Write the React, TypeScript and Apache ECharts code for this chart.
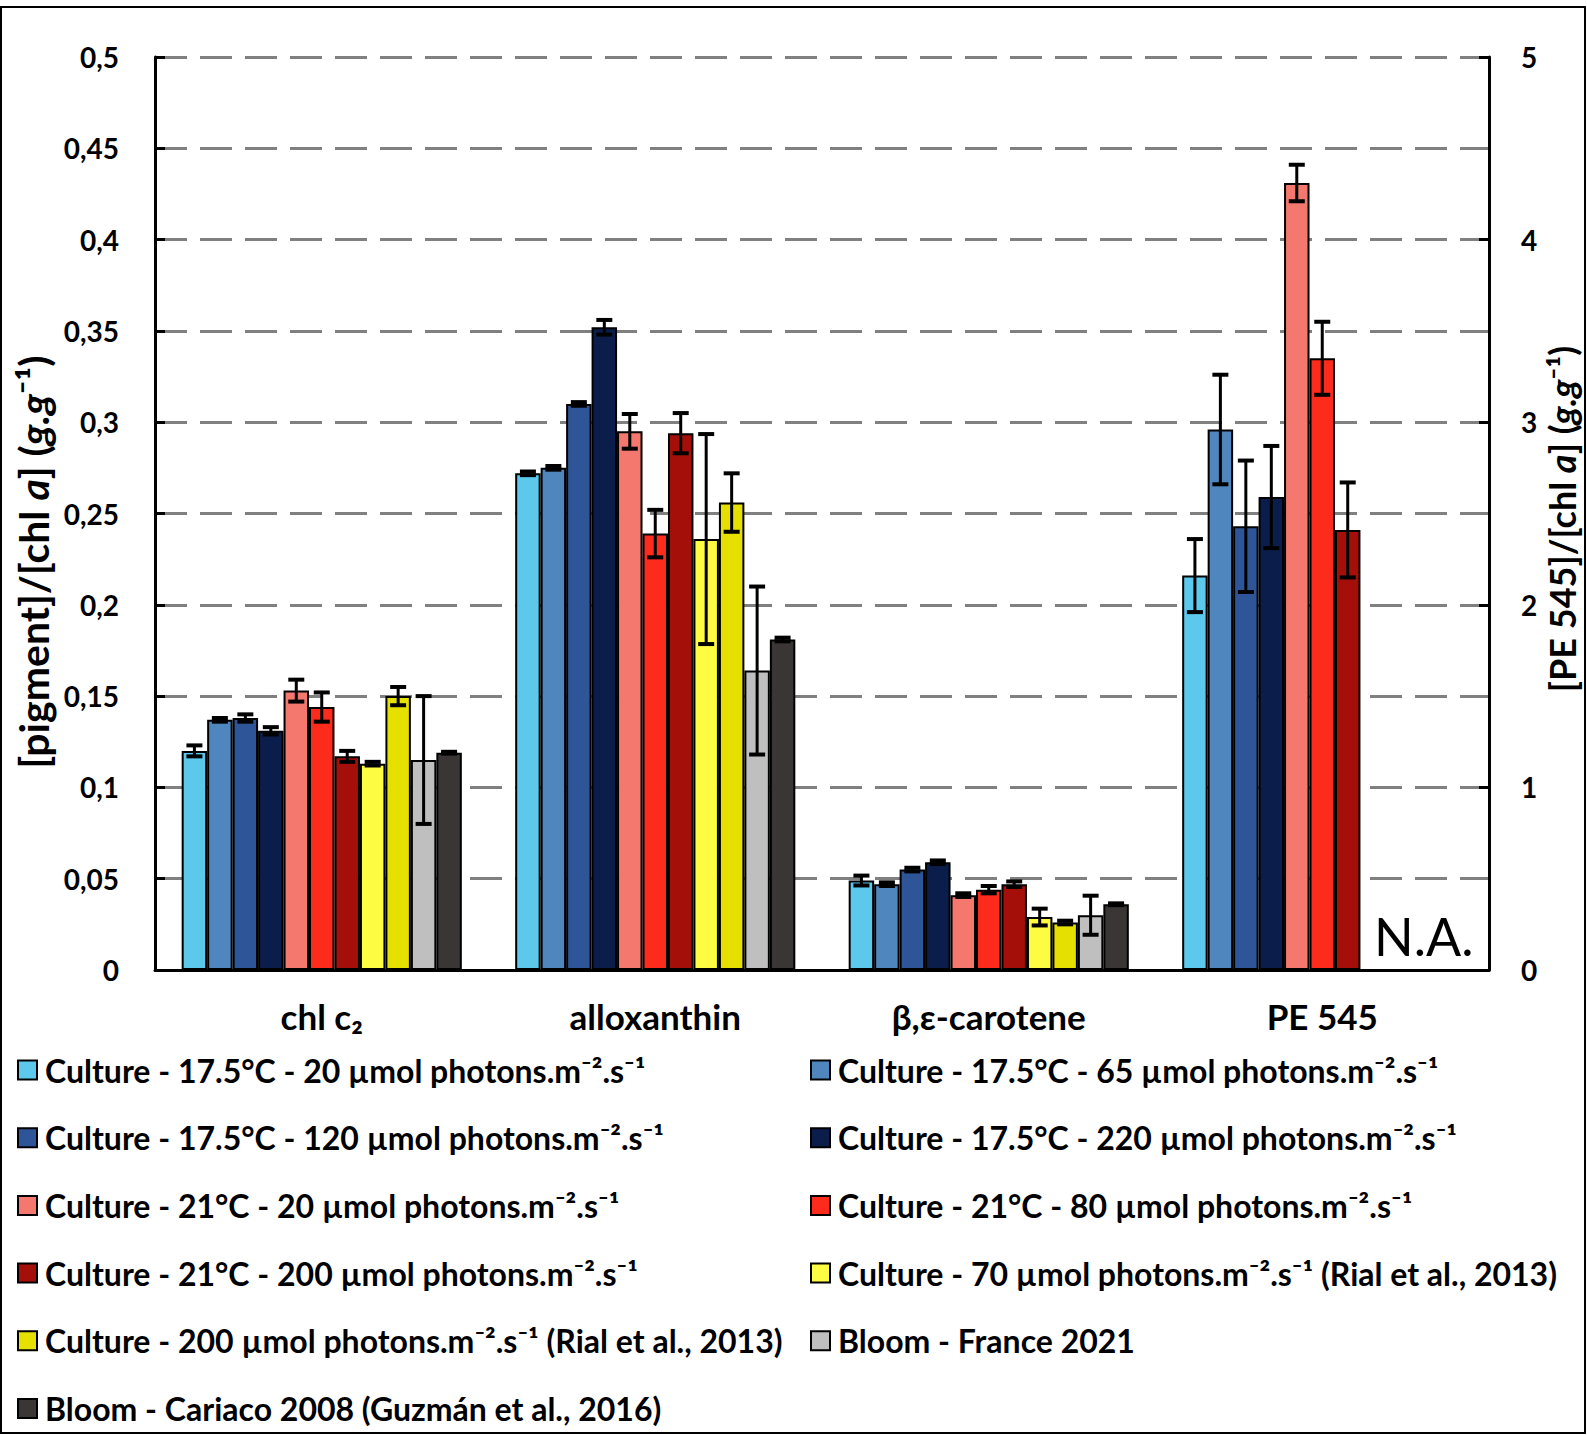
import React, { useEffect, useRef } from "react";
import * as echarts from "echarts";

const categories = ["chl c\u2082", "alloxanthin", "\u03b2,\u03b5-carotene", "PE 545"];

const seriesNames = [
  "Culture - 17.5°C - 20 µmol photons.m\u207b\u00b2.s\u207b\u00b9",
  "Culture - 17.5°C - 65 µmol photons.m\u207b\u00b2.s\u207b\u00b9",
  "Culture - 17.5°C - 120 µmol photons.m\u207b\u00b2.s\u207b\u00b9",
  "Culture - 17.5°C - 220 µmol photons.m\u207b\u00b2.s\u207b\u00b9",
  "Culture - 21°C - 20 µmol photons.m\u207b\u00b2.s\u207b\u00b9",
  "Culture - 21°C - 80 µmol photons.m\u207b\u00b2.s\u207b\u00b9",
  "Culture - 21°C - 200 µmol photons.m\u207b\u00b2.s\u207b\u00b9",
  "Culture - 70 µmol photons.m\u207b\u00b2.s\u207b\u00b9 (Rial et al., 2013)",
  "Culture - 200 µmol photons.m\u207b\u00b2.s\u207b\u00b9 (Rial et al., 2013)",
  "Bloom - France 2021",
  "Bloom - Cariaco 2008 (Guzmán et al., 2016)",
];

const colors = [
  "#5BC8EC", "#4F86BE", "#2E5597", "#0B1D4A", "#F4786E", "#FC2B1C",
  "#A50F0A", "#FEFB43", "#E5E000", "#BFBFBF", "#3A3636",
];

// left axis values ([pigment]/[chl a])
const chlC2 = [0.120, 0.137, 0.138, 0.131, 0.153, 0.144, 0.117, 0.113, 0.150, 0.115, 0.119];
const chlC2Err = [0.003, 0.001, 0.002, 0.002, 0.006, 0.008, 0.003, 0.001, 0.005, 0.035, 0.0005];
const alloxanthin = [0.272, 0.275, 0.310, 0.352, 0.295, 0.239, 0.294, 0.236, 0.256, 0.164, 0.181];
const alloxanthinErr = [0.001, 0.001, 0.001, 0.004, 0.0095, 0.013, 0.011, 0.0575, 0.016, 0.046, 0.001];
const carotene = [0.049, 0.047, 0.055, 0.059, 0.041, 0.044, 0.047, 0.029, 0.026, 0.030, 0.036];
const caroteneErr = [0.0027, 0.001, 0.001, 0.001, 0.001, 0.002, 0.0015, 0.0046, 0.001, 0.0107, 0.0005];
// right axis values ([PE 545]/[chl a])
const pe545 = [2.16, 2.96, 2.43, 2.59, 4.31, 3.35, 2.41, null, null, null, null];
const pe545Err = [0.20, 0.30, 0.36, 0.28, 0.10, 0.20, 0.26, null, null, null, null];

const leftTicks = { min: 0, max: 0.5, interval: 0.05 };
const rightTicks = { min: 0, max: 5, interval: 1 };

const FONT = "Lato";
const BAR_CAT_GAP = 0.16;

function fmt(v: number) {
  if (v === 0) return "0";
  return String(Math.round(v * 100) / 100).replace(".", ",");
}

function errRender(params: any, api: any) {
  const c = api.value(0);
  const s = api.value(1);
  const v = api.value(2);
  const e = api.value(3);
  const base = api.coord([c, v]);
  const catW = api.size([1, 0])[0];
  const bw = (catW * (1 - BAR_CAT_GAP)) / 11;
  const x = base[0] + (s - 5) * bw;
  const yt = api.coord([c, v + e])[1];
  const yb = api.coord([c, v - e])[1];
  const hw = 8;
  return {
    type: "group",
    children: [
      { type: "line", shape: { x1: x, y1: yt, x2: x, y2: yb }, style: { stroke: "#000", lineWidth: 3 } },
      { type: "line", shape: { x1: x - hw, y1: yt, x2: x + hw, y2: yt }, style: { stroke: "#000", lineWidth: 4 } },
      { type: "line", shape: { x1: x - hw, y1: yb, x2: x + hw, y2: yb }, style: { stroke: "#000", lineWidth: 4 } },
    ],
  };
}

export default function App() {
  const ref = useRef<HTMLDivElement>(null);
  useEffect(() => {
    document.body.style.margin = "0";
    const chart = echarts.init(ref.current!, null, { renderer: "svg" });

    const series: any[] = [];
    seriesNames.forEach((name, i) => {
      series.push({
        name,
        type: "bar",
        xAxisIndex: 0,
        yAxisIndex: 0,
        barGap: "0%",
        barCategoryGap: "16%",
        itemStyle: { color: colors[i], borderColor: "#000", borderWidth: 2 },
        data: [chlC2[i], alloxanthin[i], carotene[i], null],
      });
    });
    seriesNames.forEach((name, i) => {
      series.push({
        name,
        type: "bar",
        xAxisIndex: 1,
        yAxisIndex: 1,
        barGap: "0%",
        barCategoryGap: "16%",
        itemStyle: { color: colors[i], borderColor: "#000", borderWidth: 2 },
        data: [null, null, null, pe545[i]],
      });
    });
    const errLeft: number[][] = [];
    seriesNames.forEach((_, i) => {
      errLeft.push([0, i, chlC2[i], chlC2Err[i]]);
      errLeft.push([1, i, alloxanthin[i], alloxanthinErr[i]]);
      errLeft.push([2, i, carotene[i], caroteneErr[i]]);
    });
    const errRight: number[][] = [];
    seriesNames.forEach((_, i) => {
      if (pe545[i] != null) errRight.push([3, i, pe545[i] as number, pe545Err[i] as number]);
    });
    series.push({
      type: "custom",
      xAxisIndex: 0,
      yAxisIndex: 0,
      renderItem: errRender,
      data: errLeft,
      z: 10,
      silent: true,
    });
    series.push({
      type: "custom",
      xAxisIndex: 1,
      yAxisIndex: 1,
      renderItem: errRender,
      data: errRight,
      z: 10,
      silent: true,
    });

    const legendText = {
      fontFamily: FONT,
      fontWeight: "bold",
      fontSize: 32,
      color: "#000",
      lineHeight: 32,
      padding: [0, 0, 0, 3],
    };
    const legendCommon = {
      orient: "vertical",
      top: 1049,
      itemWidth: 19,
      itemHeight: 19,
      itemGap: 35.7,
      icon: "rect",
      selectedMode: false,
      itemStyle: { borderColor: "#000", borderWidth: 2 },
      textStyle: legendText,
    };

    const titleStyle = (text: string, size: number) => ({
      text,
      rich: { i: { fontStyle: "italic", fontWeight: "bold", fontSize: size, fontFamily: FONT, fill: "#000" } },
      fontSize: size,
      fontWeight: "bold",
      fontFamily: FONT,
      fill: "#000",
      align: "center",
      verticalAlign: "middle",
    });

    const option: any = {
      animation: false,
      backgroundColor: "#fff",
      grid: { left: 155, right: 98, top: 57, bottom: 465, containLabel: false },
      legend: [
        { ...legendCommon, left: 12, data: seriesNames.filter((_, i) => i % 2 === 0) },
        { ...legendCommon, left: 805, data: seriesNames.filter((_, i) => i % 2 === 1) },
      ],
      xAxis: [
        {
          type: "category",
          data: categories,
          axisLine: { lineStyle: { color: "#000", width: 3 } },
          axisTick: { show: false },
          axisLabel: { fontFamily: FONT, fontWeight: "bold", fontSize: 35, color: "#000", margin: 28 },
        },
        { type: "category", data: categories, show: false },
      ],
      yAxis: [
        {
          type: "value",
          ...leftTicks,
          axisLine: { show: true, lineStyle: { color: "#000", width: 3 } },
          axisTick: { show: true, inside: true, length: 10, lineStyle: { color: "#000", width: 3 } },
          axisLabel: {
            fontFamily: FONT, fontWeight: "bold", fontSize: 28, color: "#000", margin: 36,
            formatter: (v: number) => fmt(v),
          },
          splitLine: { show: true, lineStyle: { color: "#808080", width: 3, type: [32, 13] } },
        },
        {
          type: "value",
          position: "right",
          ...rightTicks,
          axisLine: { show: true, lineStyle: { color: "#000", width: 3 } },
          axisTick: { show: true, inside: true, length: 10, lineStyle: { color: "#000", width: 3 } },
          axisLabel: { fontFamily: FONT, fontWeight: "bold", fontSize: 28, color: "#000", margin: 32 },
          splitLine: { show: false },
        },
      ],
      series,
      graphic: [
        {
          type: "rect",
          shape: { x: 1, y: 7, width: 1584, height: 1426 },
          style: { fill: "none", stroke: "#000", lineWidth: 2 },
          silent: true,
        },
        {
          type: "text",
          x: 33,
          y: 562,
          rotation: Math.PI / 2,
          style: titleStyle("[pigment]/[chl {i|a}] ({i|g.g}\u207b\u00b9)", 41),
        },
        {
          type: "text",
          x: 1562,
          y: 519,
          rotation: Math.PI / 2,
          style: titleStyle("[PE 545]/[chl {i|a}] ({i|g.g}\u207b\u00b9)", 36),
        },
        {
          type: "text",
          x: 1374,
          y: 936,
          style: {
            text: "N.A.",
            fontSize: 52,
            fontFamily: FONT,
            fill: "#000",
            align: "left",
            verticalAlign: "middle",
          },
        },
      ],
    };
    chart.setOption(option);
    return () => chart.dispose();
  }, []);
  return <div ref={ref} style={{ width: 1587, height: 1435 }} />;
}
